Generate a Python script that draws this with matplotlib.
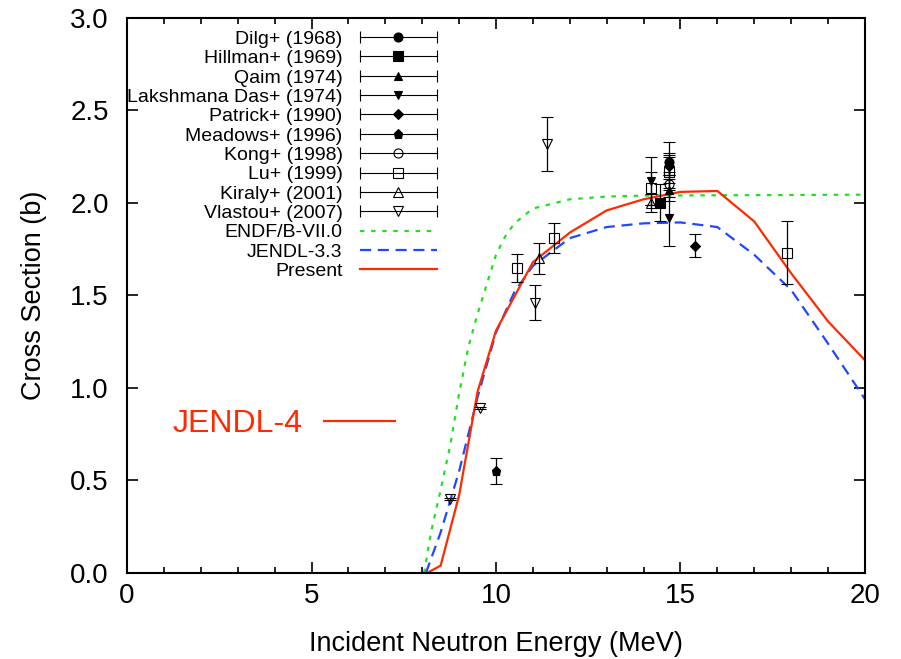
import numpy as np
import matplotlib
matplotlib.use("Agg")
import matplotlib.pyplot as plt
from matplotlib.lines import Line2D
from matplotlib.container import ErrorbarContainer
from matplotlib.legend_handler import HandlerBase

plt.rcParams['font.family'] = ['Liberation Sans', 'DejaVu Sans']

# experimental data: (energy MeV, cross section b, error b)
dilg_e = [14.7]
dilg_cs = [2.22]
dilg_err = [0.11]

hillman_e = [14.45]
hillman_cs = [2.00]
hillman_err = [0.10]

qaim_e = [14.7]
qaim_cs = [2.07]
qaim_err = [0.06]

das_e = [14.2, 14.7]
das_cs = [2.12, 1.92]
das_err = [0.13, 0.15]

patrick_e = [14.7, 15.4]
patrick_cs = [2.20, 1.77]
patrick_err = [0.05, 0.06]

meadows_e = [10.0, 14.7]
meadows_cs = [0.55, 2.21]
meadows_err = [0.07, 0.06]

kong_e = [14.7]
kong_cs = [2.10]
kong_err = [0.07]

lu_e = [10.57, 11.57, 14.2, 14.7, 17.9]
lu_cs = [1.65, 1.81, 2.08, 2.17, 1.73]
lu_err = [0.075, 0.08, 0.09, 0.09, 0.17]

kiraly_e = [11.16, 14.2]
kiraly_cs = [1.70, 2.00]
kiraly_err = [0.085, 0.05]

vlastou_e = [8.75, 9.57, 11.06, 11.38]
vlastou_cs = [0.40, 0.89, 1.46, 2.32]
vlastou_err = [0.005, 0.005, 0.095, 0.145]

# evaluated curves
endf_e = [8.05, 8.25, 8.5, 8.75, 9.0, 9.25, 9.5, 9.75, 10.0, 10.25, 10.5, 11.0, 12.0, 13.0, 14.0, 20.0]
endf_cs = [0.0, 0.23, 0.45, 0.68, 0.97, 1.22, 1.40, 1.56, 1.72, 1.82, 1.89, 1.97, 2.02, 2.035, 2.04, 2.045]

jendl33_e = [8.1, 8.5, 9.0, 9.5, 10.0, 10.5, 11.0, 12.0, 13.0, 14.0, 15.0, 16.0, 17.0, 18.0, 19.0, 20.0]
jendl33_cs = [0.0, 0.22, 0.55, 0.95, 1.30, 1.52, 1.66, 1.81, 1.87, 1.89, 1.895, 1.87, 1.72, 1.53, 1.24, 0.94]

present_e = [8.13, 8.5, 9.0, 9.5, 10.0, 11.0, 12.0, 13.0, 14.0, 15.0, 16.0, 17.0, 18.0, 19.0, 20.0]
present_cs = [0.0, 0.04, 0.42, 0.98, 1.31, 1.68, 1.84, 1.96, 2.02, 2.06, 2.065, 1.90, 1.62, 1.36, 1.15]


class BarHandler(HandlerBase):
    # gnuplot style key: horizontal bar with end caps, marker in the middle
    def create_artists(self, legend, orig_handle, xdescent, ydescent,
                       width, height, fontsize, trans):
        src = orig_handle[0]
        y = 0.5 * height - ydescent
        x0, x1 = -xdescent, width - xdescent
        bar = Line2D([x0, x1], [y, y], color='k', lw=0.8, transform=trans)
        caps = Line2D([x0, x1], [y, y], ls='none', marker='|', ms=8, mew=0.8,
                      color='k', transform=trans)
        mk = Line2D([0.5 * (x0 + x1)], [y], ls='none', marker=src.get_marker(),
                    ms=src.get_markersize(), mfc=src.get_markerfacecolor(),
                    mec='k', mew=src.get_markeredgewidth(), transform=trans)
        return [bar, caps, mk]


fig = plt.figure(figsize=(9.01, 6.59), dpi=100)
ax = fig.add_axes([0.141, 0.1305, 0.819, 0.8422])

sets = [
    ("Dilg+ (1968)", dilg_e, dilg_cs, dilg_err, 'o', 'k', 6.5),
    ("Hillman+ (1969)", hillman_e, hillman_cs, hillman_err, 's', 'k', 6.5),
    ("Qaim (1974)", qaim_e, qaim_cs, qaim_err, '^', 'k', 6),
    ("Lakshmana Das+ (1974)", das_e, das_cs, das_err, 'v', 'k', 6),
    ("Patrick+ (1990)", patrick_e, patrick_cs, patrick_err, 'D', 'k', 5),
    ("Meadows+ (1996)", meadows_e, meadows_cs, meadows_err, 'p', 'k', 6.5),
    ("Kong+ (1998)", kong_e, kong_cs, kong_err, 'o', 'none', 6.5),
    ("Lu+ (1999)", lu_e, lu_cs, lu_err, 's', 'none', 7),
    ("Kiraly+ (2001)", kiraly_e, kiraly_cs, kiraly_err, '^', 'none', 6.5),
    ("Vlastou+ (2007)", vlastou_e, vlastou_cs, vlastou_err, 'v', 'none', 6.5),
]

handles = []
labels = []
for name, e, cs, err, mk, fc, ms in sets:
    h = ax.errorbar(e, cs, yerr=err, fmt=mk, ms=ms, mfc=fc, mec='k', mew=0.8,
                    color='k', ecolor='k', elinewidth=0.9, capsize=4.5,
                    capthick=0.9, label=name, zorder=3)
    handles.append(h)
    labels.append(name)

l1, = ax.plot(endf_e, endf_cs, color='#22e022', lw=1.6, ls=(0, (2, 3)),
              label="ENDF/B-VII.0")
l2, = ax.plot(jendl33_e, jendl33_cs, color='#1f48ff', lw=1.6, ls=(0, (5, 3)),
              label="JENDL-3.3")
l3, = ax.plot(present_e, present_cs, color='#ff2a00', lw=1.6, label="Present")
handles += [l1, l2, l3]
labels += ["ENDF/B-VII.0", "JENDL-3.3", "Present"]

ax.set_xlim(0, 20)
ax.set_ylim(0, 3.0)
ax.set_xticks([0, 5, 10, 15, 20])
ax.set_xticks(np.arange(0, 21, 1), minor=True)
ax.set_yticks(np.arange(0, 3.01, 0.5))
ax.set_xticklabels(['0', '5', '10', '15', '20'])
ax.set_yticklabels(['%.1f' % v for v in np.arange(0, 3.01, 0.5)])
ax.tick_params(which='both', direction='in', top=True, right=True,
               labelsize=20, width=1.2)
ax.tick_params(which='major', length=8, pad=7)
ax.tick_params(axis='y', which='major', pad=13)
ax.tick_params(which='minor', length=4)
for s in ax.spines.values():
    s.set_linewidth(1.5)

ax.set_xlabel("Incident Neutron Energy (MeV)", fontsize=19.5, labelpad=16)
ax.set_ylabel("Cross Section (b)", fontsize=19.5, labelpad=17)

leg = ax.legend(handles, labels, loc='upper left', bbox_to_anchor=(0.0, 0.978),
                frameon=False, markerfirst=False, fontsize=14,
                handlelength=3.95, handletextpad=0.9, labelspacing=0.09,
                borderaxespad=0, borderpad=0,
                handler_map={ErrorbarContainer: BarHandler()})
ax.add_artist(leg)

# JENDL-4 label: text first, then a red line sample
jl = Line2D([], [], color='#ff2a00', lw=1.6)
ax.legend([jl], ["JENDL-4"], loc='center left', bbox_to_anchor=(0.062, 0.269),
          frameon=False, markerfirst=False, fontsize=23, labelcolor='#ff2a00',
          handlelength=2.25, handletextpad=0.65, borderaxespad=0, borderpad=0)

fig.savefig("out.png", dpi=100)
